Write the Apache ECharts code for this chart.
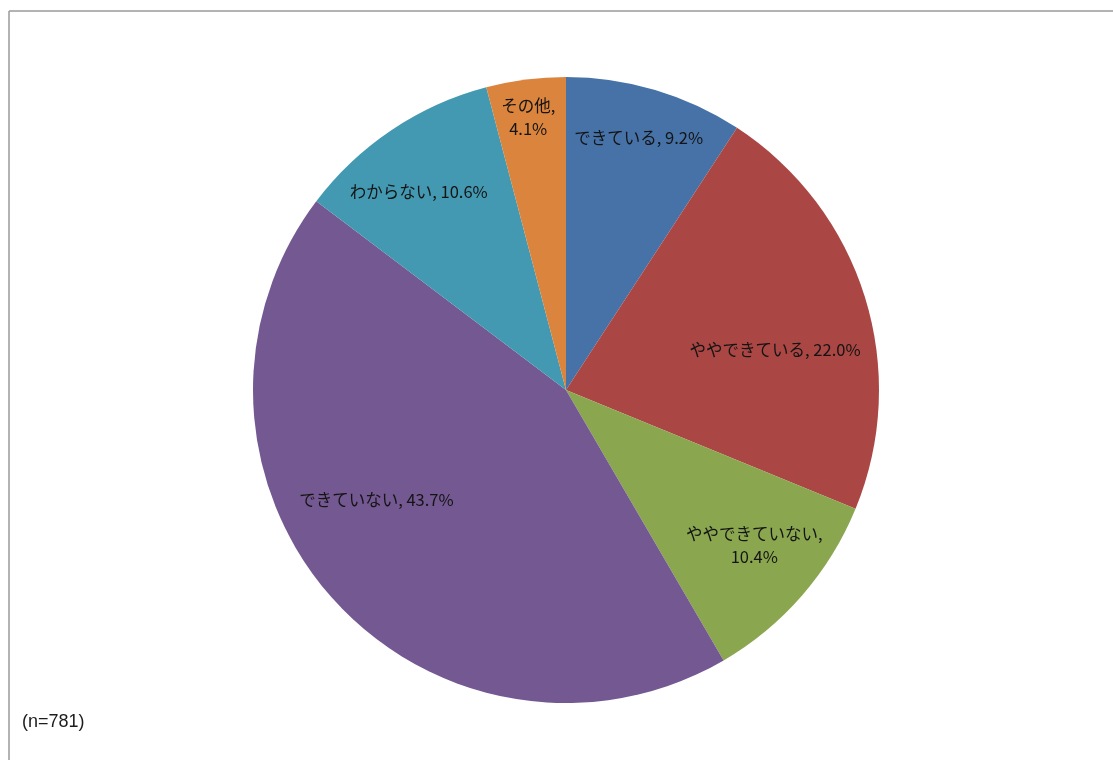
<!DOCTYPE html>
<html>
<head>
<meta charset="utf-8">
<script src="https://cdn.jsdelivr.net/npm/echarts@6/dist/echarts.min.js"></script>
<style>
  html, body { margin: 0; padding: 0; background: #fff; }
  #chart { width: 1113px; height: 760px; }
</style>
</head>
<body>
<div id="chart"></div>
<script>
// Survey answers, clockwise from 12 o'clock
const categories = ['できている', 'ややできている', 'ややできていない', 'できていない', 'わからない', 'その他'];
const shares = [9.2, 22.0, 10.4, 43.7, 10.6, 4.1];
const sampleNote = '(n=781)';

const colors = ['#4672A8', '#AA4643', '#8AA64F', '#735891', '#4399B1', '#DB843D'];
// Label placement: fraction of the radius, and a small turn (degrees) away from the slice's mid-angle
const labelRadius = [0.84, 0.68, 0.78, 0.70, 0.79, 0.88];
const labelTurn = [-0.5, 6.5, -1.5, 11.5, -2.7, -0.5];
// Labels that wrap onto a second line
const wrapLabel = [false, false, true, false, false, true];

const CX = 566, CY = 390, R = 313;

// mid-angle of every slice, clockwise from the top, in degrees
const total = shares.reduce((a, b) => a + b, 0);
const midAngle = [];
shares.reduce((acc, v) => { midAngle.push((acc + v / 2) / total * 360); return acc + v; }, 0);

const chart = echarts.init(document.getElementById('chart'), null, { renderer: 'canvas' });

chart.setOption({
  backgroundColor: '#ffffff',
  animation: false,
  graphic: [
    // chart-area frame (top and left edges visible)
    { type: 'line', shape: { x1: 9, y1: 11, x2: 1113, y2: 11 }, style: { stroke: '#9a9a9a', lineWidth: 1.5 } },
    { type: 'line', shape: { x1: 9, y1: 11, x2: 9, y2: 760 }, style: { stroke: '#9a9a9a', lineWidth: 1.5 } },
    { type: 'text', left: 22, top: 713, style: { text: sampleNote, font: '18px "Liberation Sans", sans-serif', fill: '#1c1c1c' } }
  ],
  series: [{
    type: 'pie',
    center: [CX, CY],
    radius: [0, R],
    startAngle: 90,
    clockwise: true,
    avoidLabelOverlap: false,
    silent: true,
    data: categories.map((name, i) => ({
      name,
      value: shares[i],
      itemStyle: { color: colors[i] }
    })),
    label: {
      show: true,
      position: 'inside',
      color: '#141414',
      fontSize: 16.5,
      lineHeight: 23,
      fontFamily: '"Noto Sans CJK JP", sans-serif',
      formatter: p => {
        const pct = p.value.toFixed(1) + '%';
        return wrapLabel[p.dataIndex] ? p.name + ',\n' + pct : p.name + ', ' + pct;
      }
    },
    labelLine: { show: false },
    labelLayout: params => {
      const i = params.dataIndex;
      const a = (midAngle[i] + labelTurn[i]) * Math.PI / 180;
      const r = labelRadius[i] * R;
      return { x: CX + r * Math.sin(a), y: CY - r * Math.cos(a), align: 'center', verticalAlign: 'middle' };
    }
  }]
});
</script>
</body>
</html>
